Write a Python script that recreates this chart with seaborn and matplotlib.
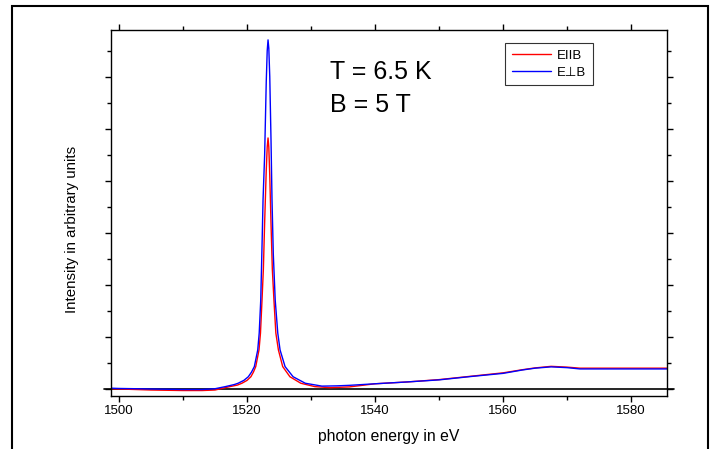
"""
plot.py — photoluminescence spectrum, E||B vs E⊥B at T = 6.5 K, B = 5 T.
"""

import matplotlib.pyplot as plt
import numpy as np
import pandas as pd
import seaborn as sns
from matplotlib.patches import Rectangle
from matplotlib.ticker import MultipleLocator

# ── data ─────────────────────────────────────────────────────────────
energy_par = [1498.8, 1500, 1505, 1510, 1513, 1515, 1517.3, 1518.5, 1519.2,
              1520.0, 1520.6, 1521.0, 1521.36, 1521.87, 1522.1, 1522.34,
              1522.55, 1522.75, 1523.0, 1523.15, 1523.28, 1523.4, 1523.55,
              1523.75, 1523.95, 1524.2, 1524.5, 1524.9, 1525.57, 1526.7,
              1528.4, 1530.6, 1533, 1536, 1540, 1545, 1550, 1555, 1560,
              1563, 1565, 1567.5, 1570, 1572, 1575, 1580, 1585.6]
int_par = [0.01, 0.0, -0.04, -0.06, -0.06, -0.04, 0.09, 0.15, 0.22,
           0.33, 0.47, 0.65, 0.86, 1.5, 2.15, 3.42,
           4.6, 6.4, 8.4, 9.3, 9.65, 9.3, 8.2,
           6.3, 4.6, 3.42, 2.15, 1.5, 0.86, 0.47,
           0.22, 0.09, 0.05, 0.08, 0.2, 0.27, 0.36, 0.49, 0.62,
           0.74, 0.81, 0.87, 0.84, 0.8, 0.8, 0.8, 0.8]

energy_perp = [1498.8, 1500, 1505, 1510, 1513, 1515, 1516.6, 1518.0, 1518.6,
               1519.5, 1520.2, 1520.7, 1521.14, 1521.67, 1521.9, 1522.14,
               1522.35, 1522.5, 1522.75, 1523.0, 1523.15, 1523.28, 1523.4,
               1523.55, 1523.75, 1523.9, 1524.1, 1524.4, 1524.8, 1525.16,
               1525.94, 1527.2, 1529.1, 1531.7, 1534, 1536, 1540, 1545,
               1550, 1555, 1560, 1563, 1565, 1567.5, 1570, 1572, 1575,
               1580, 1585.6]
int_perp = [0.03, 0.02, 0.0, -0.02, -0.02, 0.01, 0.09, 0.17, 0.22,
            0.33, 0.47, 0.65, 0.86, 1.5, 2.15, 3.42,
            5.6, 7.27, 9.0, 11.8, 13.0, 13.42, 13.1,
            12.0, 9.5, 7.27, 5.2, 3.42, 2.15, 1.5,
            0.86, 0.47, 0.22, 0.11, 0.12, 0.14, 0.2, 0.27,
            0.35, 0.48, 0.6, 0.73, 0.8, 0.85, 0.82, 0.77, 0.77,
            0.77, 0.77]

labels = ["EIIB", "E\u22a5B"]
colors = {"EIIB": "#ff0000", "E\u22a5B": "#0000ff"}

df = pd.concat([
    pd.DataFrame({"energy": energy_par, "intensity": int_par, "pol": labels[0]}),
    pd.DataFrame({"energy": energy_perp, "intensity": int_perp, "pol": labels[1]}),
], ignore_index=True)

# ── style ────────────────────────────────────────────────────────────
sns.set_theme(style="ticks")
plt.rcParams["font.family"] = ["Liberation Sans", "DejaVu Sans"]
plt.rcParams.update({
    "axes.edgecolor": "black",
    "axes.linewidth": 1.0,
    "text.color": "black",
    "axes.labelcolor": "black",
    "xtick.color": "black",
    "ytick.color": "black",
})

fig = plt.figure(figsize=(7.11, 4.49), dpi=100)
ax = fig.add_axes([111 / 711, 1 - 396 / 449, 556 / 711, 366 / 449])

sns.lineplot(
    data=df, x="energy", y="intensity", hue="pol", hue_order=labels,
    palette=colors, estimator=None, sort=False, linewidth=1.0, ax=ax,
)

# zero line sticking out a bit on both sides
ax.axhline(0, xmin=-0.012, xmax=1.012, color="black", lw=1.2, clip_on=False, zorder=1)

ax.set_xlim(1498.75, 1585.6)
ax.set_ylim(-0.27, 13.8)

ax.xaxis.set_major_locator(MultipleLocator(20))
ax.xaxis.set_minor_locator(MultipleLocator(10))
ax.yaxis.set_major_locator(MultipleLocator(2))
ax.yaxis.set_minor_locator(MultipleLocator(1))
ax.tick_params(which="both", direction="out", top=True, right=True,
               labelleft=False, colors="black", width=1.0)
ax.tick_params(which="major", length=4.5, labelsize=9.5, pad=2)
ax.tick_params(which="minor", length=2.8)

ax.set_xlabel("photon energy in eV", fontsize=11.3)
ax.set_ylabel("Intensity in arbitrary units", fontsize=10.8)
ax.xaxis.set_label_coords(0.5, -0.09)
ax.yaxis.set_label_coords(-0.058, 0.455)

ax.text(1533, 12.19, "T = 6.5 K", fontsize=18, va="center", ha="left")
ax.text(1533, 10.92, "B = 5 T", fontsize=18, va="center", ha="left")

leg = ax.legend(
    loc="upper left", bbox_to_anchor=(0.709, 0.9645), borderaxespad=0,
    fontsize=9.5, frameon=True, fancybox=False, edgecolor="black",
    handlelength=3.0, handletextpad=0.4, borderpad=0.5, labelspacing=0.35,
    title=None,
)
leg.get_frame().set_linewidth(0.8)

# outer frame around the whole picture
fig.patches.append(Rectangle(
    (12 / 711, -0.05), (708 - 12) / 711, 1.05 - 6 / 449,
    transform=fig.transFigure, fill=False, edgecolor="black", lw=1.5,
))

fig.savefig("out.png", dpi=100)
plt.close(fig)
